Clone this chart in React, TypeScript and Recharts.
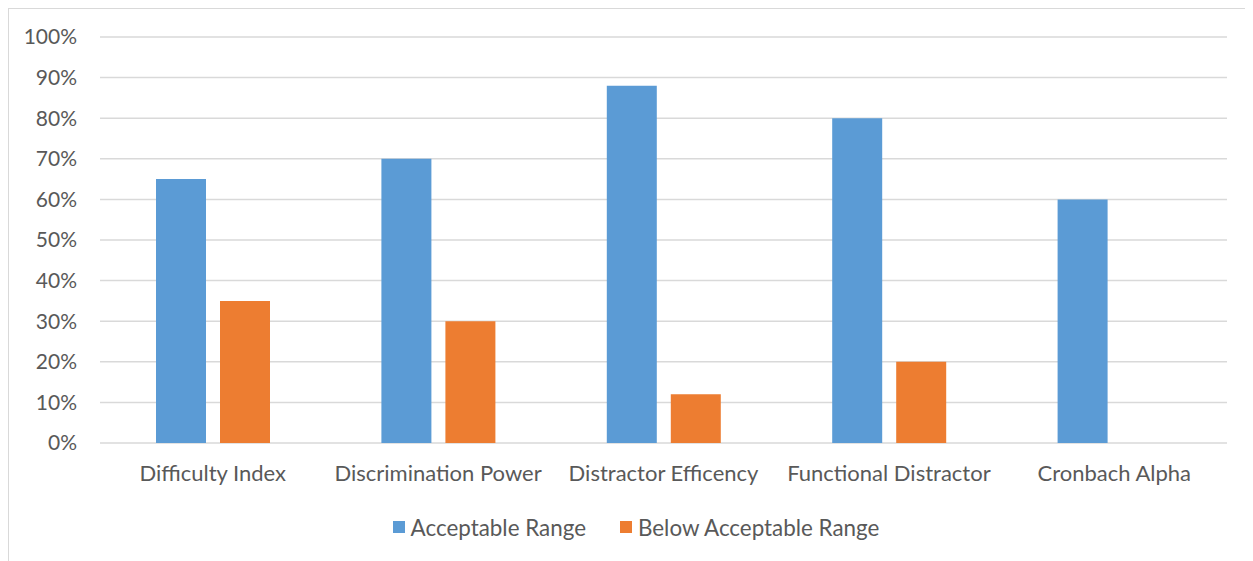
import React from 'react';
import {
  BarChart,
  Bar,
  XAxis,
  YAxis,
  CartesianGrid,
  Legend
} from 'recharts';

// item analysis categories and the share of items in / below acceptable range
const categories = [
  'Difficulty Index',
  'Discrimination Power',
  'Distractor Efficency',
  'Functional Distractor',
  'Cronbach Alpha'
];
const acceptable = [65, 70, 88, 80, 60];
const belowAcceptable = [35, 30, 12, 20, 0];
const yTicks = [0, 10, 20, 30, 40, 50, 60, 70, 80, 90, 100];

const BLUE = '#5B9BD5';
const ORANGE = '#ED7D31';
const TEXT = '#595959';
const FONT = 'Lato, "Open Sans", sans-serif';

const data = categories.map((name, i) => ({
  name,
  acceptable: acceptable[i],
  below: belowAcceptable[i]
}));

const legendItems = [
  { label: 'Acceptable Range', color: BLUE },
  { label: 'Below Acceptable Range', color: ORANGE }
];

const LegendContent = () => (
  <div
    style={{
      display: 'flex',
      justifyContent: 'center',
      alignItems: 'center',
      height: 48,
      fontFamily: FONT,
      fontSize: 22.4,
      color: TEXT,
      gap: 34,
      paddingLeft: 36
    }}
  >
    {legendItems.map(item => (
      <div key={item.label} style={{ display: 'flex', alignItems: 'center' }}>
        <span
          style={{
            display: 'inline-block',
            width: 12,
            height: 12,
            background: item.color,
            marginRight: 6
          }}
        />
        <span>{item.label}</span>
      </div>
    ))}
  </div>
);

const App: React.FC = () => {
  return (
    <div
      style={{
        width: 1245,
        height: 553,
        borderLeft: '1px solid #D9D9D9',
        borderTop: '1px solid #D9D9D9',
        background: '#fff'
      }}
    >
      <BarChart
        width={1244}
        height={552}
        data={data}
        margin={{ top: 28, right: 26, left: 0, bottom: 0 }}
        barGap={14}
        barSize={50}
      >
        <CartesianGrid vertical={false} stroke="#D9D9D9" strokeWidth={1.5} />
        <XAxis
          dataKey="name"
          axisLine={false}
          tickLine={false}
          tickSize={0}
          tickMargin={22}
          height={60}
          interval={0}
          tick={{ fill: TEXT, fontSize: 22, fontFamily: FONT }}
        />
        <YAxis
          width={91}
          domain={[0, 100]}
          ticks={yTicks}
          axisLine={false}
          tickLine={false}
          tickSize={0}
          tickMargin={23}
          tickFormatter={(v: number) => `${v}%`}
          tick={{ fill: TEXT, fontSize: 21, fontFamily: FONT }}
        />
        <Legend verticalAlign="bottom" height={58} content={<LegendContent />} />
        <Bar dataKey="acceptable" name="Acceptable Range" fill={BLUE} isAnimationActive={false} />
        <Bar dataKey="below" name="Below Acceptable Range" fill={ORANGE} isAnimationActive={false} />
      </BarChart>
    </div>
  );
};

export default App;
